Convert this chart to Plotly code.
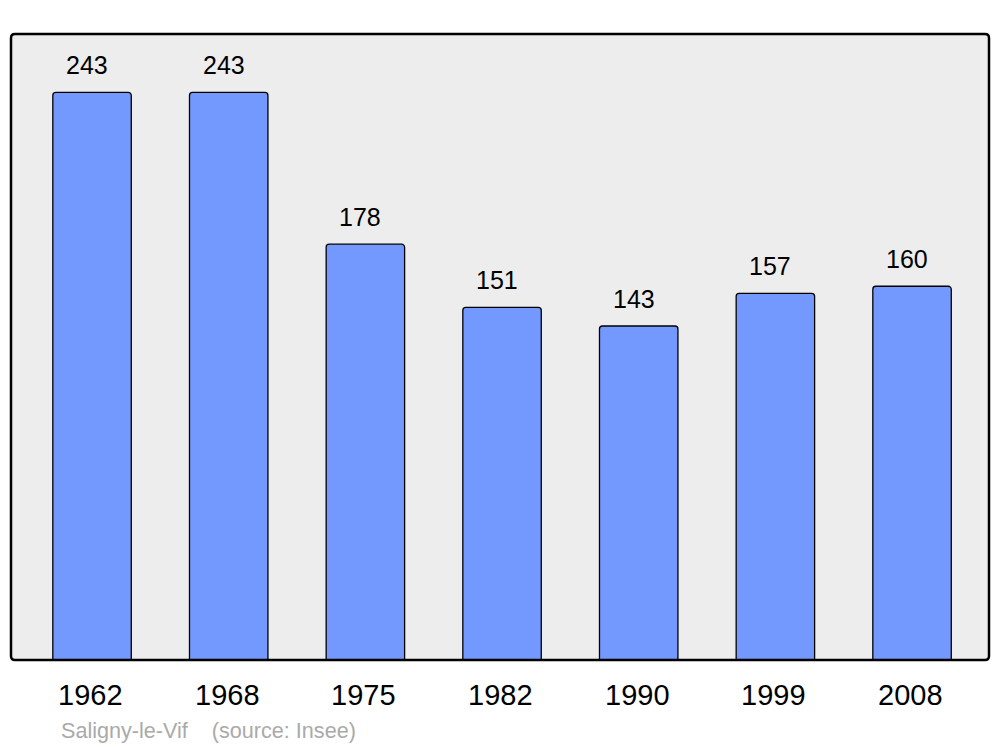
import plotly.graph_objects as go

years = ["1962", "1968", "1975", "1982", "1990", "1999", "2008"]
population = [243, 243, 178, 151, 143, 157, 160]
source_text = "Saligny-le-Vif    (source: Insee)"

W, H = 1000, 747
L, R, T, B = 11, 11, 34, 87
pw, ph = W - L - R, H - T - B

xpos = list(range(len(years)))

fig = go.Figure()
fig.add_trace(go.Bar(
    x=xpos, y=population, width=0.574,
    marker=dict(color="#7399ff", line=dict(color="#000000", width=1.3)),
    hoverinfo="skip",
))

# value labels
for xi, v in zip(xpos, population):
    fig.add_annotation(x=xi, y=v, text=str(v), showarrow=False, xanchor="center",
                       yanchor="middle", yshift=27, xshift=-5,
                       font=dict(family="Liberation Sans, Arial, sans-serif", size=25, color="#000"))
# year tick labels
for xi, yr in zip(xpos, years):
    fig.add_annotation(x=xi, y=0, text=yr, showarrow=False, xanchor="center",
                       yanchor="middle", yshift=-35, xshift=-1.5,
                       font=dict(family="Liberation Sans, Arial, sans-serif", size=29, color="#000"))

fig.add_annotation(xref="paper", yref="paper", x=48 / pw, y=-(730 - 660) / ph,
                   text=source_text, showarrow=False, xanchor="left", yanchor="middle",
                   font=dict(family="Liberation Sans, Arial, sans-serif", size=21.6, color="#aaaaaa"))

# rounded frame
rx, ry = 4 / pw, 4 / ph
path = (f"M {rx},0 L {1-rx},0 Q 1,0 1,{ry} L 1,{1-ry} Q 1,1 {1-rx},1 "
        f"L {rx},1 Q 0,1 0,{1-ry} L 0,{ry} Q 0,0 {rx},0 Z")
fig.add_shape(type="path", xref="paper", yref="paper", path=path,
              line=dict(color="#000000", width=2.5), layer="above")

fig.update_layout(
    width=W, height=H,
    margin=dict(l=L, r=R, t=T, b=B, pad=0),
    paper_bgcolor="#ffffff", plot_bgcolor="#ededed",
    barcornerradius=3,
    showlegend=False,
    xaxis=dict(range=[-0.593, 6.563], showgrid=False, zeroline=False,
               showticklabels=False, ticks="", fixedrange=True),
    yaxis=dict(range=[0, 268], showgrid=False, zeroline=False,
               showticklabels=False, ticks="", fixedrange=True),
)

fig.write_html("out.html", config={"displayModeBar": False},
               post_script="document.body.style.margin='0';document.body.style.overflow='hidden';")
